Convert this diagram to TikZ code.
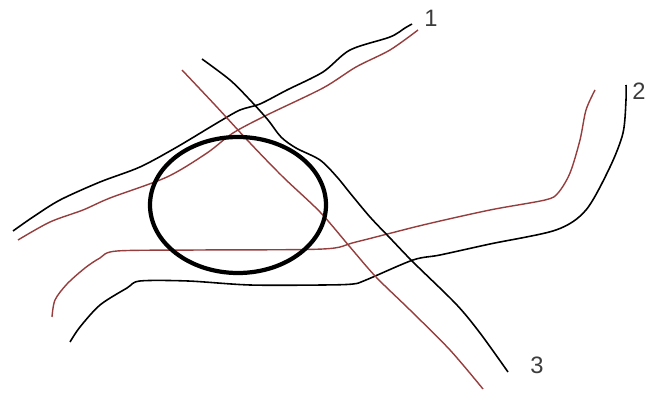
\documentclass[tikz,border=0pt]{standalone}
\usepackage{fontspec}
\setmainfont{Liberation Sans}
\usepackage{tikz}
\usetikzlibrary{positioning}
\definecolor{SketchRed}{RGB}{150,62,62}
\definecolor{SketchGray}{RGB}{60,60,60}

\begin{document}
\begin{tikzpicture}[x=0.02cm,y=-0.02cm,
    blackline/.style={black, line width=0.9pt, line join=round},
    redline/.style={SketchRed, line width=0.8pt, line join=round},
    ringline/.style={black, line width=2.4pt},
    numlabel/.style={SketchGray, inner sep=0pt, font=\fontsize{13.5}{16}\selectfont}]
  \useasboundingbox (0,0) rectangle (646,394);
  % road 1
  \draw[blackline] plot[smooth, tension=0.5] coordinates {(13,231) (33,217) (60,200) (100,182) (140,167) (177,147) (217,123) (240,110) (260,104) (287,90) (323,72) (350,50) (390,37) (405,28) (412,24)};
  \draw[redline] plot[smooth, tension=0.5] coordinates {(18,240) (50,222) (83,210) (110,198) (167,177) (207,153) (233,133) (267,115) (323,88) (356,67) (390,50) (418,30)};
  % road 2
  \draw[redline] plot[smooth, tension=0.5] coordinates {(52,317) (55,300) (67,284) (85,268) (100,258) (117,251) (200,250) (323,249) (356,242) (423,225) (490,210) (545,200) (558,193) (570,173) (580,140) (586,110) (595,90)};
  \draw[blackline] plot[smooth, tension=0.5] coordinates {(70,342) (80,327) (100,305) (127,288) (140,281) (188,281) (250,285) (323,285) (353,284) (366,280) (413,260) (440,255) (490,244) (556,230) (586,210) (610,167) (623,133) (626,100) (626,85)};
  % road 3
  \draw[blackline] plot[smooth, tension=0.5] coordinates {(202,59) (230,80) (250,100) (268,120) (281,137) (296,148) (320,160) (337,177) (350,193) (370,217) (390,238) (413,262) (456,304) (480,333) (508,372)};
  \draw[redline] plot[smooth, tension=0.5] coordinates {(182,70) (215,105) (250,143) (283,177) (320,212) (350,247) (376,277) (410,310) (450,350) (483,389)};
  % area
  \draw[ringline] (238,205) ellipse [x radius=88, y radius=68];
  % numbers
  \node[numlabel] (n1) at (431,18) {1};
  \node[numlabel] (n2) at (639,91) {2};
  \node[numlabel] (n3) at (537,365) {3};
\end{tikzpicture}
\end{document}
